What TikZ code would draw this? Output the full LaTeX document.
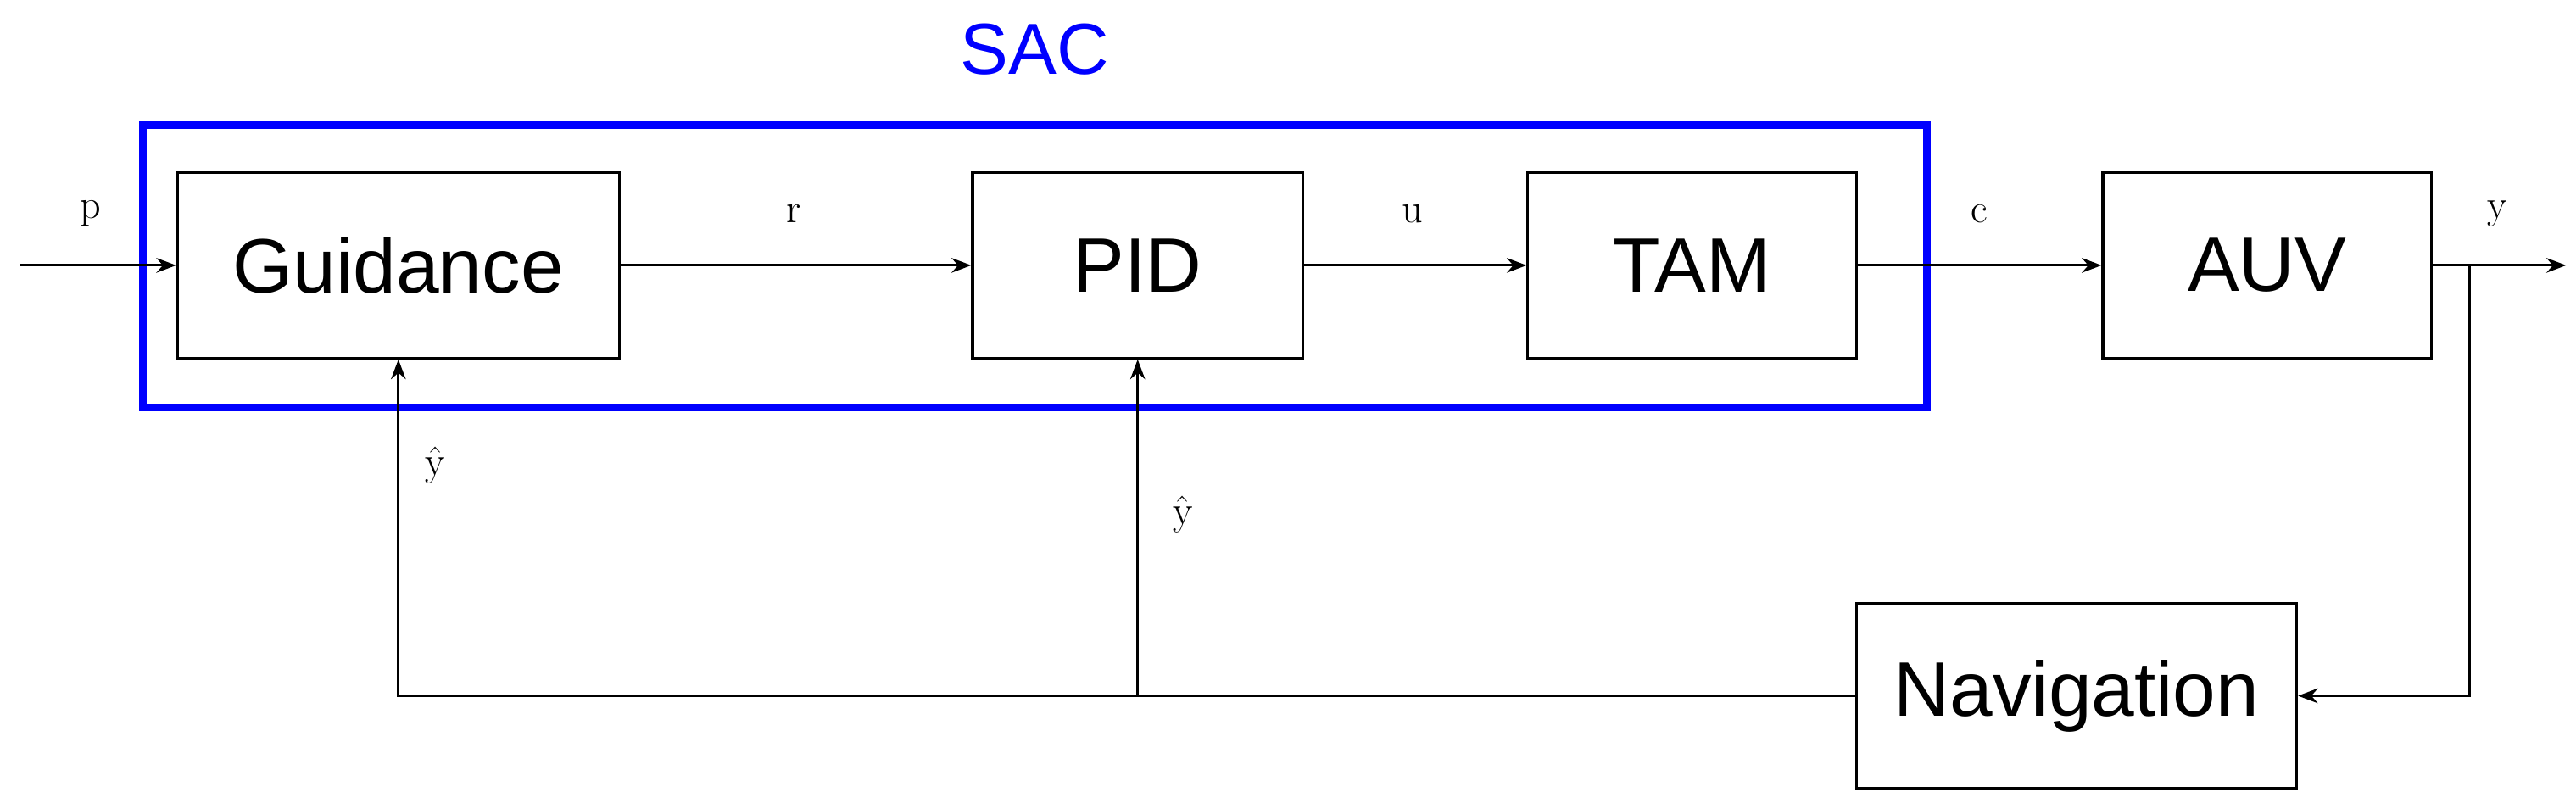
\documentclass[tikz,border=0pt]{standalone}
\usepackage[no-math]{fontspec}
\setmainfont{Liberation Sans}
\usetikzlibrary{arrows.meta}
\begin{document}
\begin{tikzpicture}[x=1pt,y=-1pt,
  blk/.style={draw,line width=1.6pt,minimum width=#1,minimum height=113pt,inner sep=0pt,font=\fontsize{47}{56}\selectfont},
  lab/.style={font=\fontsize{32}{38}\selectfont},
  con/.style={line width=1.6pt,-{Stealth[length=12pt,width=9pt]}},
  ln/.style={line width=1.6pt}]
\useasboundingbox (0,0) rectangle (1568,492);
\node[blk=269pt] (g) at (242.5,161.5) {Guidance};
\node[blk=201pt] (pid) at (692.5,161.5) {PID};
\node[blk=200pt] (tam) at (1030,161.5) {TAM};
\node[blk=200pt] (auv) at (1380,161.5) {AUV};
\node[blk=268pt] (nav) at (1264,423.5) {Navigation};
\draw[blue,line width=4.5pt] (87,76) rectangle (1173,248);
\node[blue,font=\fontsize{44}{52}\selectfont] (sac) at (630,30) {SAC};
\coordinate (in) at (12,161.5);
\coordinate (out) at (1562,161.5);
\coordinate (br) at (1503,161.5);
\coordinate (j) at (692.5,423.5);
\draw[con] (in) -- (g);
\draw[con] (g) -- (pid);
\draw[con] (pid) -- (tam);
\draw[con] (tam) -- (auv);
\draw[con] (auv) -- (out);
\draw[con] (br) |- (nav);
\draw[con] (nav) -| (g);
\draw[con] (j) -- (pid);
\node[lab] (lp) at (55,130) {$\mathrm{p}$};
\node[lab] (lr) at (483,130) {$\mathrm{r}$};
\node[lab] (lu) at (860,130) {$\mathrm{u}$};
\node[lab] (lc) at (1205,130) {$\mathrm{c}$};
\node[lab] (ly) at (1520,130) {$\mathrm{y}$};
\node[lab] (ly1) at (265,283) {$\hat{\mathrm{y}}$};
\node[lab] (ly2) at (720,313) {$\hat{\mathrm{y}}$};
\end{tikzpicture}
\end{document}
